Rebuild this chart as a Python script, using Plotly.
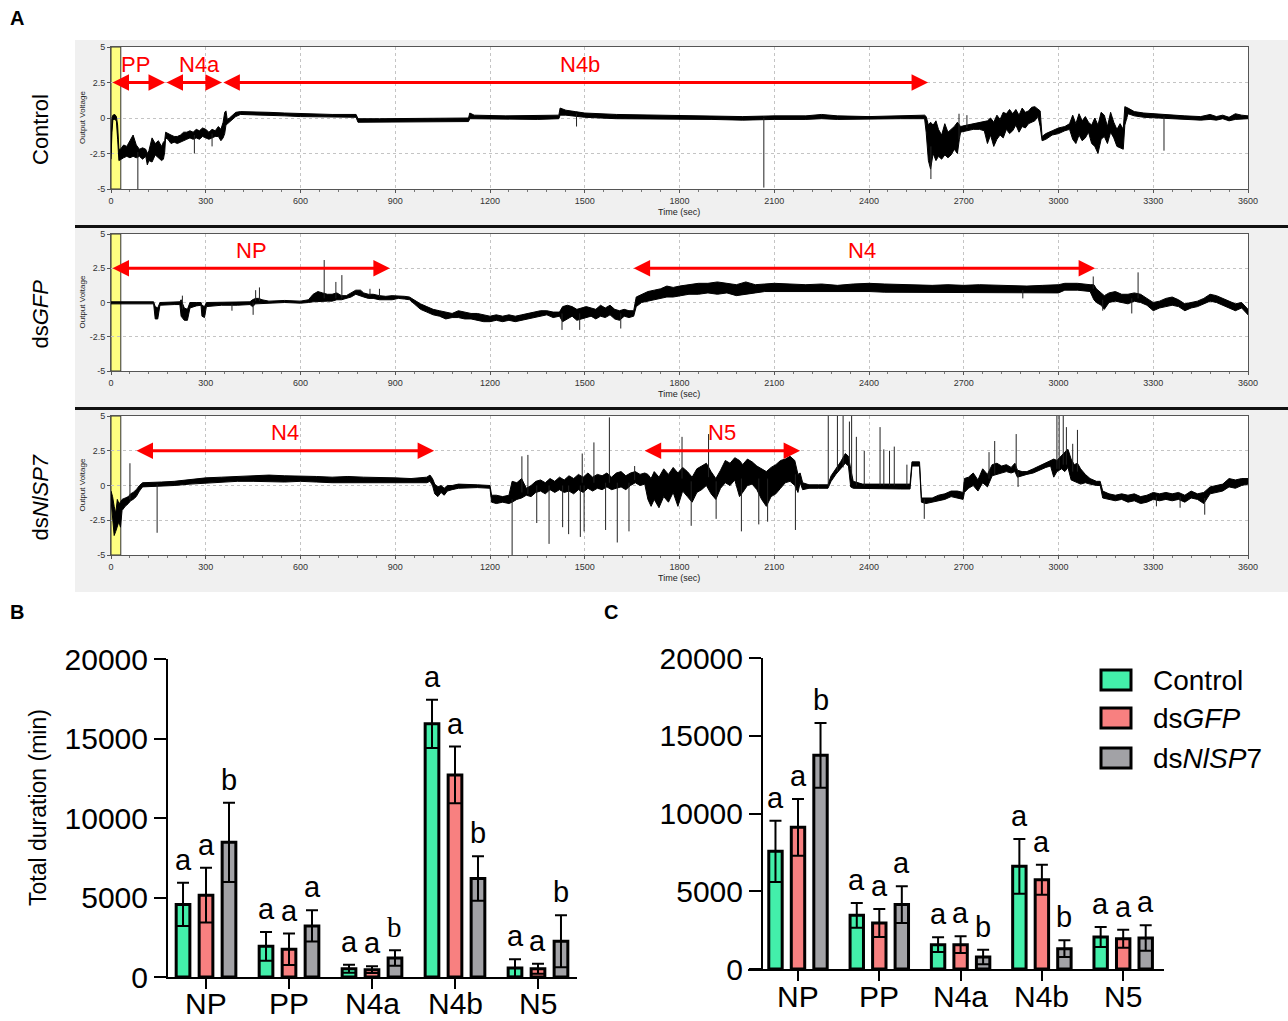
import plotly.graph_objects as go

W, H = 1288, 1021
FONT = "Liberation Sans, Arial, sans-serif"


def X(px):
    return px / W


def Y(py):
    return 1 - py / H


# ---------------- Panel A data (time s, low V, high V envelopes) -------------
ctrl_env = [
    (0, -2.9, -2.5), (3, -1.0, 0.0), (6, -0.1, 0.2), (12, -0.1, 0.25), (17, -0.2, 0.1), (21, -1.5, -0.5), (25, -3.0, -2.2),
    (30, -2.9, -2.2), (40, -2.8, -1.9), (50, -2.7, -2.0), (60, -2.8, -1.6), (70, -2.7, -1.2), (80, -2.8, -1.9), (90, -2.7, -2.2),
    (100, -2.9, -2.1), (110, -2.7, -2.2), (115, -3.3, -2.5), (120, -3.0, -2.3), (130, -3.1, -1.4), (140, -2.6, -1.8),
    (150, -2.8, -1.6), (160, -3.0, -2.0), (166, -2.9, -1.7), (170, -2.4, -1.6),
    (173, -1.4, -1.0), (180, -1.5, -1.1), (190, -1.8, -1.2), (200, -1.7, -1.3), (210, -1.8, -1.3), (220, -1.7, -1.2),
    (230, -1.6, -1.0), (240, -1.5, -1.0), (250, -1.4, -0.9), (260, -1.5, -1.0), (270, -1.4, -0.8), (280, -1.5, -0.9),
    (290, -1.3, -0.7), (300, -1.4, -0.8), (310, -1.5, -1.0), (320, -1.4, -0.8), (330, -1.3, -0.9), (340, -1.3, -0.6),
    (348, -1.6, -0.8), (355, -1.4, -0.3), (360, -1.1, 0.4), (364, -0.5, 0.5), (368, -0.4, -0.1), (375, -0.3, 0.0),
    (385, -0.1, 0.2), (395, 0.1, 0.4), (410, 0.25, 0.45), (450, 0.25, 0.45), (500, 0.2, 0.4), (550, 0.15, 0.35),
    (600, 0.1, 0.3), (650, 0.1, 0.28), (700, 0.05, 0.25), (776, 0.05, 0.25), (782, -0.3, -0.05), (850, -0.3, -0.05),
    (950, -0.3, -0.05), (1050, -0.25, -0.05), (1132, -0.25, 0.0), (1136, -0.05, 0.35), (1150, -0.05, 0.2),
    (1250, -0.1, 0.15), (1350, -0.1, 0.15), (1418, -0.05, 0.2), (1422, 0.2, 0.7), (1440, 0.2, 0.55), (1470, 0.15, 0.45),
    (1500, 0.05, 0.35), (1600, -0.05, 0.25), (1700, -0.1, 0.2), (1800, -0.1, 0.15), (1900, -0.1, 0.12), (2000, -0.15, 0.1),
    (2100, -0.1, 0.15), (2200, -0.1, 0.15), (2250, -0.05, 0.25), (2300, -0.1, 0.15), (2400, -0.1, 0.1), (2500, -0.05, 0.15),
    (2576, -0.05, 0.2),
    (2581, -1.0, 0.1), (2588, -3.0, -0.5), (2595, -3.6, -0.3), (2603, -2.5, -0.5), (2612, -3.0, -0.2), (2620, -2.7, -0.8),
    (2630, -2.9, -1.2), (2640, -2.6, -0.4), (2650, -2.8, -1.0), (2660, -2.6, -0.8), (2670, -2.2, -0.6), (2680, -2.5, -0.3),
    (2686, -1.5, -0.5), (2690, -1.0, -0.6), (2710, -0.9, -0.5), (2730, -0.8, -0.4), (2750, -0.8, -0.3), (2765, -0.9, -0.2),
    (2775, -1.8, -0.2), (2785, -1.2, 0.0), (2795, -2.0, -0.3), (2805, -1.5, 0.2), (2815, -1.2, -0.1), (2825, -1.4, 0.4),
    (2835, -0.8, 0.3), (2845, -1.1, 0.6), (2855, -0.9, 0.3), (2865, -0.5, 0.6), (2875, -1.0, 0.2), (2885, -0.6, 0.7),
    (2895, -0.7, 0.4), (2905, -0.4, 0.5), (2915, -0.3, 0.75), (2925, -0.2, 0.8), (2935, 0.1, 0.6), (2942, -0.6, 0.5),
    (2948, -1.6, -1.3), (2960, -1.5, -1.1), (2980, -1.2, -0.9), (3000, -1.1, -0.7), (3020, -0.9, -0.6), (3035, -0.8, -0.4),
    (3045, -1.5, 0.2), (3055, -1.8, -0.4), (3065, -1.2, 0.3), (3075, -1.6, -0.2), (3085, -1.4, 0.1), (3095, -1.0, -0.3),
    (3105, -1.8, -0.5), (3115, -2.0, 0.0), (3125, -2.5, -0.5), (3135, -1.5, 0.4), (3145, -1.3, 0.2), (3155, -1.8, -0.6),
    (3165, -1.0, 0.4), (3175, -1.4, -0.3), (3185, -2.0, -0.8), (3195, -2.1, -0.4), (3205, -2.2, -0.8),
    (3210, -0.5, 0.8), (3220, 0.3, 0.7), (3240, 0.15, 0.45), (3270, 0.05, 0.35), (3300, 0.0, 0.3), (3350, -0.05, 0.2),
    (3400, -0.1, 0.15), (3450, -0.15, 0.1), (3480, -0.1, 0.25), (3500, -0.15, 0.1), (3520, -0.05, 0.2), (3540, -0.2, 0.05),
    (3560, -0.1, 0.3), (3580, -0.05, 0.2), (3600, -0.05, 0.15),
]
ctrl_spikes = [(85, -2.4, -5.0), (264, -1.2, -2.5), (320, -1.1, -2.0), (2067, 0.0, -4.9), (2596, -2.0, -4.3),
               (3334, 0.1, -2.3), (1474, 0.3, -0.6), (2685, -1.5, 0.3), (2710, -0.7, 0.2)]

gfp_env = [
    (0, -0.1, 0.05), (100, -0.1, 0.05), (135, -0.1, 0.05), (140, -1.2, -0.3), (148, -1.2, -0.4), (155, -0.2, 0.0),
    (200, -0.15, 0.05), (218, -0.15, 0.05), (222, -1.0, 0.2), (232, -1.3, -0.4), (242, -1.3, -0.5), (250, -0.4, 0.0),
    (270, -0.25, 0.0), (285, -0.2, 0.0), (288, -1.0, -0.2), (296, -1.1, -0.3), (302, -0.3, 0.0), (350, -0.2, 0.0),
    (400, -0.2, 0.0), (440, -0.15, 0.05), (448, -0.3, 0.2), (458, -0.1, 0.3), (468, -0.1, 0.3), (478, -0.1, 0.2),
    (500, -0.05, 0.1), (550, 0.0, 0.15), (600, -0.05, 0.1), (625, 0.0, 0.2), (640, 0.05, 0.6), (655, 0.1, 0.8),
    (670, 0.1, 0.7), (685, 0.1, 0.6), (700, 0.1, 0.6), (715, 0.2, 0.7), (730, 0.2, 0.5), (745, 0.3, 0.5), (760, 0.4, 0.7),
    (775, 0.6, 0.9), (790, 0.5, 0.9), (800, 0.4, 0.7), (815, 0.3, 0.6), (830, 0.3, 0.6), (850, 0.2, 0.5), (870, 0.2, 0.45),
    (890, 0.2, 0.5), (910, 0.3, 0.5), (930, 0.25, 0.45), (945, 0.2, 0.4), (960, -0.1, 0.2), (980, -0.5, -0.1),
    (1000, -0.7, -0.3), (1020, -0.9, -0.5), (1040, -1.0, -0.6), (1060, -1.2, -0.7), (1080, -1.1, -0.8), (1100, -1.1, -0.6),
    (1120, -1.2, -0.7), (1140, -1.2, -0.8), (1160, -1.3, -0.8), (1180, -1.4, -0.9), (1200, -1.4, -1.0), (1220, -1.3, -0.9),
    (1240, -1.4, -1.0), (1260, -1.3, -0.9), (1280, -1.4, -1.0), (1300, -1.3, -0.9), (1320, -1.2, -0.8), (1340, -1.1, -0.7),
    (1360, -1.0, -0.6), (1380, -0.9, -0.6), (1400, -1.1, -0.7), (1420, -1.0, -0.7), (1430, -1.4, -0.3), (1445, -1.2, -0.2),
    (1460, -1.0, -0.3), (1475, -1.3, -0.5), (1490, -1.2, -0.4), (1505, -1.1, -0.3), (1520, -1.0, -0.4), (1535, -1.2, -0.5),
    (1550, -1.0, -0.2), (1565, -1.1, -0.4), (1580, -0.9, -0.2), (1595, -1.2, -0.5), (1610, -1.3, -0.6), (1625, -1.0, -0.5),
    (1640, -1.1, -0.6), (1655, -1.0, -0.6), (1663, -0.3, 0.4), (1680, 0.0, 0.6), (1700, 0.1, 0.8), (1720, 0.2, 0.9),
    (1740, 0.3, 1.0), (1760, 0.4, 1.2), (1780, 0.4, 1.1), (1800, 0.5, 1.2), (1830, 0.6, 1.3), (1860, 0.6, 1.4),
    (1890, 0.7, 1.4), (1920, 0.6, 1.5), (1950, 0.7, 1.4), (1980, 0.5, 1.3), (2010, 0.6, 1.5), (2040, 0.7, 1.3),
    (2070, 0.8, 1.35), (2100, 0.8, 1.4), (2150, 0.8, 1.35), (2200, 0.8, 1.3), (2250, 0.8, 1.35), (2300, 0.75, 1.25),
    (2350, 0.8, 1.35), (2400, 0.8, 1.4), (2450, 0.75, 1.35), (2500, 0.75, 1.3), (2550, 0.7, 1.3), (2600, 0.7, 1.25),
    (2650, 0.75, 1.3), (2700, 0.7, 1.25), (2750, 0.7, 1.3), (2800, 0.75, 1.25), (2850, 0.7, 1.2), (2900, 0.7, 1.2),
    (2950, 0.7, 1.25), (3000, 0.7, 1.3), (3020, 0.9, 1.4), (3060, 0.9, 1.4), (3100, 0.8, 1.3), (3112, 0.2, 1.3),
    (3120, 0.0, 1.0), (3135, -0.2, 0.7), (3145, -0.5, 0.5), (3160, 0.0, 0.7), (3180, 0.1, 0.8), (3200, 0.0, 0.6),
    (3220, -0.1, 0.6), (3240, 0.1, 0.7), (3260, 0.0, 0.6), (3280, -0.2, 0.3), (3300, -0.6, 0.0), (3320, -0.4, 0.1),
    (3340, -0.3, 0.3), (3360, -0.2, 0.4), (3380, -0.3, 0.2), (3400, -0.6, -0.1), (3420, -0.4, 0.0), (3440, -0.3, 0.1),
    (3460, -0.1, 0.3), (3480, 0.1, 0.6), (3500, 0.0, 0.5), (3520, -0.2, 0.3), (3540, -0.4, 0.1), (3560, -0.6, -0.1),
    (3580, -0.4, 0.0), (3600, -0.9, -0.5),
]
gfp_spikes = [(675, 0.3, 3.1), (712, 0.3, 1.5), (731, 0.3, 2.0), (2887, 0.9, 0.3), (3110, 1.0, 1.9), (3252, 0.3, 2.2),
              (3232, 0.3, -0.8), (1428, -0.8, -2.0), (1484, -0.8, -2.0), (1614, -0.8, -1.9), (820, 0.5, 1.0),
              (850, 0.4, 1.0), (383, -0.1, -0.6), (450, 0.0, -0.9), (458, 0.1, 0.9), (470, 0.1, 1.1),
              (226, -0.5, 0.5), (3140, 0.2, -0.6)]

nisp_env = [
    (0, -1.0, -0.4), (5, -2.5, -0.8), (10, -3.6, -1.5), (15, -3.3, -2.0), (20, -3.0, -1.0), (25, -2.6, -1.3), (30, -3.0, -1.2),
    (35, -1.8, -1.0), (45, -1.5, -0.9), (55, -1.3, -0.8), (62, -1.1, -0.6), (70, -1.0, -0.5), (80, -0.8, -0.3), (90, -0.4, 0.0),
    (100, -0.1, 0.2), (130, -0.05, 0.25), (160, -0.05, 0.25), (200, 0.0, 0.3), (250, 0.1, 0.45), (300, 0.2, 0.55),
    (350, 0.25, 0.6), (400, 0.3, 0.65), (450, 0.3, 0.7), (500, 0.3, 0.75), (550, 0.25, 0.7), (600, 0.3, 0.7),
    (650, 0.25, 0.65), (700, 0.2, 0.6), (750, 0.2, 0.65), (800, 0.2, 0.6), (850, 0.2, 0.6), (900, 0.15, 0.55),
    (950, 0.2, 0.5), (1000, 0.2, 0.6), (1010, 0.3, 0.75), (1018, 0.0, 0.5), (1025, -0.6, 0.1), (1035, -0.8, -0.1),
    (1045, -0.5, 0.0), (1055, -0.7, -0.2), (1065, -0.4, 0.0), (1080, -0.3, 0.0), (1100, -0.2, 0.1), (1130, -0.15, 0.1),
    (1160, -0.15, 0.05), (1200, -0.2, 0.0), (1205, -1.2, -0.7), (1220, -1.3, -0.7), (1240, -1.2, -0.8), (1260, -1.3, -0.7),
    (1270, -1.2, 0.3), (1285, -1.0, 0.2), (1300, -0.9, 0.5), (1315, -0.7, -0.2), (1330, -0.8, 0.0), (1345, -0.5, 0.3),
    (1360, -0.4, 0.4), (1375, -0.6, 0.2), (1390, -0.3, 0.5), (1405, -0.5, 0.3), (1420, -0.3, 0.6), (1435, -0.5, 0.4),
    (1450, -0.4, 0.7), (1465, -0.6, 0.5), (1480, -0.3, 0.8), (1495, -0.5, 0.6), (1510, -0.2, 0.9), (1525, -0.4, 0.6),
    (1540, -0.2, 0.8), (1555, -0.3, 0.7), (1570, -0.1, 0.9), (1585, -0.3, 0.6), (1600, -0.2, 0.9), (1615, -0.1, 1.0),
    (1630, -0.3, 0.7), (1645, 0.0, 0.9), (1660, 0.2, 1.0), (1675, 0.0, 0.8), (1690, 0.1, 0.9), (1700, -1.0, 0.8),
    (1710, -1.5, 0.5), (1720, -1.0, 1.0), (1735, -1.6, 0.6), (1750, -0.8, 1.2), (1765, -1.2, 0.8), (1780, -0.5, 1.3),
    (1795, -1.5, 0.9), (1810, -0.4, 1.3), (1825, -0.8, 1.0), (1840, -1.2, 0.6), (1855, -0.5, 1.2), (1870, -0.3, 1.4),
    (1885, 0.0, 1.6), (1900, -0.6, 1.0), (1915, -1.0, 0.5), (1930, -0.2, 1.1), (1945, 0.2, 1.8), (1960, 0.0, 1.6),
    (1975, 0.4, 2.0), (1990, -0.8, 1.8), (2000, -0.5, 1.5), (2015, 0.0, 1.9), (2030, 0.1, 1.7), (2045, -0.3, 1.4),
    (2060, -1.0, 1.2), (2075, -1.5, 1.0), (2090, -0.8, 1.3), (2105, -0.6, 1.5), (2120, -0.2, 1.8), (2135, 0.2, 1.9),
    (2150, 0.3, 2.1), (2165, 0.0, 1.8), (2175, -0.5, 0.8), (2182, 0.2, 0.9), (2190, -0.3, 0.2), (2210, -0.2, 0.05),
    (2240, -0.2, 0.05), (2270, -0.2, 0.05), (2280, 0.3, 0.7), (2295, 0.8, 1.2), (2310, 1.2, 1.7), (2325, 1.6, 2.3),
    (2335, 1.4, 2.1), (2342, -0.1, 1.2), (2350, -0.2, 0.3), (2380, -0.2, 0.1), (2420, -0.2, 0.1), (2460, -0.25, 0.05),
    (2500, -0.25, 0.05), (2530, -0.25, 0.1), (2536, 1.4, 1.7), (2560, 1.4, 1.7), (2566, -1.2, -0.9), (2580, -1.3, -0.9),
    (2600, -1.2, -0.9), (2620, -1.1, -0.7), (2640, -1.0, -0.6), (2660, -0.8, -0.4), (2680, -0.9, -0.4), (2698, -1.0, -0.5),
    (2702, -0.5, 0.5), (2715, -0.2, 0.6), (2730, 0.0, 0.9), (2745, -0.4, 0.4), (2760, 0.2, 1.2), (2775, -0.1, 0.8),
    (2790, 0.7, 1.5), (2805, 0.8, 1.6), (2820, 0.9, 1.4), (2835, 1.0, 1.5), (2850, 0.9, 1.3), (2862, 1.0, 1.6),
    (2870, 0.6, 1.1), (2885, 0.7, 1.0), (2900, 0.8, 1.0), (2920, 0.9, 1.2), (2940, 1.1, 1.4), (2960, 1.3, 1.6),
    (2975, 1.4, 1.8), (2985, 0.6, 1.9), (2995, 1.0, 1.8), (3010, 1.2, 2.2), (3020, 1.0, 2.4), (3030, 1.3, 2.6),
    (3040, 0.4, 1.9), (3050, 0.3, 1.5), (3060, 0.2, 1.6), (3070, 0.1, 1.2), (3085, 0.2, 0.8), (3100, 0.1, 0.5),
    (3120, 0.0, 0.3), (3132, 0.0, 0.3), (3140, -0.9, -0.4), (3160, -1.0, -0.6), (3180, -1.1, -0.7), (3200, -1.0, -0.6),
    (3220, -1.2, -0.7), (3240, -1.1, -0.6), (3260, -1.3, -0.8), (3280, -1.2, -0.7), (3300, -1.0, -0.5), (3320, -1.1, -0.6),
    (3340, -1.0, -0.5), (3360, -1.1, -0.6), (3380, -1.0, -0.5), (3400, -1.2, -0.7), (3420, -0.9, -0.4), (3440, -1.0, -0.6),
    (3460, -1.3, -0.5), (3480, -0.6, -0.1), (3500, -0.5, 0.0), (3520, -0.4, 0.1), (3540, -0.1, 0.5), (3560, -0.2, 0.4),
    (3580, 0.0, 0.5), (3600, 0.1, 0.5),
]
nisp_spikes = [(60, -1.0, 1.6), (146, 0.1, -3.4), (1270, -1.0, -5.0), (1301, -0.5, 2.1), (1348, 0.0, -2.7),
               (1387, 0.0, -4.2), (1430, 0.0, -3.0), (1449, 0.0, -3.5), (1486, 0.0, -3.7), (1498, 0.0, -3.3),
               (1492, 0.2, 2.3), (1529, 0.2, 3.1), (1566, 0.2, -3.2), (1578, 0.2, 4.9), (1603, 0.2, -4.1),
               (1640, 0.2, -3.3), (1658, 0.4, 1.4), (1837, 0.3, -2.9), (1808, 0.5, 3.5), (1892, 0.6, 3.7),
               (1916, 0.3, -2.4), (1996, 0.5, -3.3), (2051, 0.5, -2.8), (2079, 0.5, -2.6), (2167, 0.8, -3.2),
               (2271, 0.0, 5.0), (2300, 1.0, 5.0), (2318, 1.3, 5.0), (2345, 0.5, 5.0), (2338, 1.5, 4.6),
               (2360, 0.0, 3.5), (2385, 0.0, 2.5), (2435, 0.0, 4.2), (2447, 0.0, 2.6), (2465, 0.0, 2.5),
               (2480, 0.0, 2.8), (2520, 0.0, 1.5), (2575, -1.0, -2.4), (2780, 0.5, 2.4), (2798, 0.8, 3.2),
               (2866, 1.2, 3.7), (2872, 1.0, -0.1), (2995, 1.2, 5.0), (3002, 1.2, 5.0), (3015, 1.5, 5.0),
               (3025, 1.5, 4.2), (3045, 1.0, 3.0), (3060, 1.0, 4.0), (3463, -0.9, -2.1), (3385, -0.8, -1.6),
               (3310, -0.8, -1.5), (1320, -0.6, 2.2)]

# Phase arrows: (label, start s, end s, label position s)
ctrl_phases = [("PP", 0, 171, 76), ("N4a", 171, 351, 279), ("N4b", 351, 2587, 1485)]
gfp_phases = [("NP", 0, 883, 446), ("N4", 1650, 3116, 2378)]
nisp_phases = [("N4", 76, 1023, 551), ("N5", 1685, 2182, 1935)]

# ---------------- Panels B and C data ----------------
categories = ["NP", "PP", "N4a", "N4b", "N5"]
groups = ["Control", "dsGFP", "dsNlSP7"]
group_labels = ["Control", "ds<i>GFP</i>", "ds<i>NlSP</i>7"]
colors = ["#43EFAA", "#F88080", "#A2A2A6"]

B_control = [4560, 1930, 525, 15920, 567]
B_control_err = [1360, 905, 252, 1510, 546]
B_gfp = [5145, 1745, 462, 12705, 525]
B_gfp_err = [1720, 985, 210, 1785, 315]
B_nisp = [8470, 3215, 1197, 6195, 2247]
B_nisp_err = [2490, 985, 483, 1407, 1638]
B_letters = [["a", "a", "a", "a", "a"], ["a", "a", "a", "a", "a"], ["b", "a", "b", "b", "b"]]

C_control = [7570, 3450, 1565, 6600, 2058]
C_control_err = [1970, 795, 472, 1760, 642]
C_gfp = [9110, 2960, 1565, 5745, 1951]
C_gfp_err = [1825, 900, 535, 965, 579]
C_nisp = [13740, 4140, 772, 1308, 1994]
C_nisp_err = [2080, 1175, 471, 536, 815]
C_letters = [["a", "a", "a", "a", "a"], ["a", "a", "a", "a", "a"], ["b", "a", "b", "b", "a"]]

y_ticks = [0, 5000, 10000, 15000, 20000]

fig = go.Figure()
shapes = []
annotations = []


def text_ann(x, y, text, size, color="black", family=FONT, angle=0, xanchor="center", yanchor="middle",
             xref="paper", yref="paper"):
    return dict(x=x, y=y, xref=xref, yref=yref, text=text, showarrow=False, textangle=angle,
                xanchor=xanchor, yanchor=yanchor, font=dict(size=size, color=color, family=family))


# ---------------- Panel A ----------------
shapes.append(dict(type="rect", xref="paper", yref="paper", x0=X(75), x1=X(1288), y0=Y(592), y1=Y(40),
                   fillcolor="#f0f0f0", line=dict(width=0), layer="below"))

traceA = [("x", "y", ctrl_env, ctrl_spikes, ctrl_phases, 47, 189, "Control"),
          ("x2", "y2", gfp_env, gfp_spikes, gfp_phases, 234, 371, "ds<i>GFP</i>"),
          ("x3", "y3", nisp_env, nisp_spikes, nisp_phases, 416, 555, "ds<i>NlSP7</i>")]

for xa, ya, env, spikes, phases, top, bot, rowlab in traceA:
    shapes.append(dict(type="rect", xref=xa, yref=ya, x0=0, x1=3600, y0=-5, y1=5,
                       fillcolor="white", line=dict(width=0), layer="below"))
    shapes.append(dict(type="rect", xref=xa, yref=ya, x0=0, x1=31, y0=-5, y1=5,
                       fillcolor="#ffff80", line=dict(width=1, color="#333"), layer="below"))
    t = [p[0] for p in env]
    lo = [p[1] for p in env]
    hi = [p[2] for p in env]
    fig.add_trace(go.Scatter(x=t + t[::-1], y=hi + lo[::-1], fill="toself", fillcolor="black",
                             mode="lines", line=dict(color="black", width=1), xaxis=xa, yaxis=ya,
                             showlegend=False, hoverinfo="skip"))
    sx, sy = [], []
    for st, sb, sp in spikes:
        sx += [st, st, None]
        sy += [sb, sp, None]
    fig.add_trace(go.Scatter(x=sx, y=sy, mode="lines", line=dict(color="#222", width=1),
                             xaxis=xa, yaxis=ya, showlegend=False, hoverinfo="skip"))
    for name, t0, t1, tl in phases:
        annotations.append(dict(x=t1, y=2.5, ax=t0, ay=2.5, xref=xa, yref=ya, axref=xa, ayref=ya,
                                text="", showarrow=True, arrowhead=2, arrowside="end+start",
                                arrowsize=1.1, arrowwidth=3, arrowcolor="#ff0000", standoff=0,
                                startstandoff=0))
        annotations.append(text_ann(tl, 3.8, name, 22, color="#ff0000", xref=xa, yref=ya))
    mid = (top + bot) / 2
    annotations.append(text_ann(X(40), Y(mid + 12), rowlab, 22, angle=-90))
    annotations.append(text_ann(X(82), Y(mid), "Output Voltage", 8, color="#222", angle=-90))
    annotations.append(text_ann(X(679), Y(bot + 23), "Time (sec)", 9, color="#222"))

shapes.append(dict(type="line", xref="paper", yref="paper", x0=X(75), x1=X(1288), y0=Y(226.5), y1=Y(226.5),
                   line=dict(color="#111", width=3)))
shapes.append(dict(type="line", xref="paper", yref="paper", x0=X(75), x1=X(1288), y0=Y(408.5), y1=Y(408.5),
                   line=dict(color="#111", width=3)))

axA_x = dict(range=[0, 3600], tickvals=list(range(0, 3601, 300)), showgrid=True, gridcolor="#c4c4c4",
             griddash="dot", gridwidth=1, zeroline=False, showline=True, mirror=True, linecolor="#555",
             linewidth=1, ticks="outside", ticklen=3, tickcolor="#555", automargin=False,
             tickfont=dict(size=9, color="#333", family=FONT),
             minor=dict(dtick=60, ticks="outside", ticklen=2, tickcolor="#777"))
axA_y = dict(range=[-5, 5], tickvals=[-5, -2.5, 0, 2.5, 5], ticktext=["-5", "-2.5", "0", "2.5", "5"],
             showgrid=True, gridcolor="#c4c4c4", griddash="dot", gridwidth=1, zeroline=False, showline=True,
             mirror=True, linecolor="#555", linewidth=1, ticks="outside", ticklen=3, tickcolor="#555",
             automargin=False, tickfont=dict(size=9, color="#333", family=FONT))

layout_axes = {}
for i, (top, bot) in enumerate([(47, 189), (234, 371), (416, 555)]):
    sfx = "" if i == 0 else str(i + 1)
    layout_axes["xaxis" + sfx] = dict(axA_x, domain=[X(111), X(1248)], anchor="y" + sfx)
    layout_axes["yaxis" + sfx] = dict(axA_y, domain=[Y(bot), Y(top)], anchor="x" + sfx)

# ---------------- Panels B and C ----------------
offsets = [-0.277, 0.0, 0.277]
bar_w = 0.165


def bar_panel(xa, ya, series, errs, letters, serif_cells, label_py):
    for k in range(3):
        xs = [i + offsets[k] for i in range(len(categories))]
        fig.add_trace(go.Bar(x=xs, y=series[k], width=bar_w, marker=dict(color=colors[k],
                             line=dict(color="black", width=3)),
                             error_y=dict(type="data", array=errs[k], symmetric=True, color="black",
                                          thickness=2, width=6),
                             xaxis=xa, yaxis=ya, showlegend=False, cliponaxis=False, hoverinfo="skip"))
        for i in range(len(categories)):
            fam = "Liberation Serif, Times New Roman, serif" if (k, i) in serif_cells else FONT
            annotations.append(dict(x=xs[i], y=series[k][i] + errs[k][i], xref=xa, yref=ya,
                                    text=letters[k][i], showarrow=False, xanchor="center", yanchor="bottom",
                                    yshift=5, font=dict(size=29, color="black", family=fam)))
    for i, c in enumerate(categories):
        annotations.append(text_ann(i, Y(label_py), c, 30, xref=xa, yref="paper"))


bar_panel("x4", "y4", [B_control, B_gfp, B_nisp], [B_control_err, B_gfp_err, B_nisp_err], B_letters,
          {(2, 2)}, 1003)
bar_panel("x5", "y5", [C_control, C_gfp, C_nisp], [C_control_err, C_gfp_err, C_nisp_err], C_letters,
          set(), 996)

bar_x = dict(tickvals=list(range(len(categories))), ticktext=[""] * len(categories), ticks="outside",
             ticklen=10, tickwidth=2, tickcolor="black", showline=True, linecolor="black", linewidth=2,
             showgrid=False, zeroline=False, automargin=False, tickfont=dict(size=30, color="black", family=FONT))
bar_y = dict(range=[0, 20000], tickvals=y_ticks, ticktext=[str(v) for v in y_ticks], ticks="outside",
             ticklen=12, tickwidth=2, tickcolor="black", showline=True, linecolor="black", linewidth=2,
             showgrid=False, zeroline=False, automargin=False, tickfont=dict(size=30, color="black", family=FONT))

layout_axes["xaxis4"] = dict(bar_x, domain=[X(168), X(577)], range=[-0.458, 4.47], anchor="y4")
layout_axes["yaxis4"] = dict(bar_y, domain=[Y(977), Y(659)], anchor="x4")
layout_axes["xaxis5"] = dict(bar_x, domain=[X(748), X(1164)], range=[-0.615, 4.502], anchor="y5")
layout_axes["yaxis5"] = dict(bar_y, domain=[Y(969), Y(658)], anchor="free", position=X(762))

annotations.append(text_ann(X(38), Y(808), "Total duration (min)", 23, angle=-90))

# legend drawn manually
for k, yc in enumerate([680, 718, 758]):
    shapes.append(dict(type="rect", xref="paper", yref="paper", x0=X(1101), x1=X(1131), y0=Y(yc + 10),
                       y1=Y(yc - 10), fillcolor=colors[k], line=dict(color="black", width=3)))
    annotations.append(text_ann(X(1151), Y(yc), group_labels[k], 28, xanchor="left"))

# panel letters
for lab, px, py in [("A", 17, 18), ("B", 17, 612), ("C", 611, 612)]:
    annotations.append(text_ann(X(px), Y(py), "<b>%s</b>" % lab, 20))

fig.update_layout(width=W, height=H, margin=dict(l=0, r=0, t=0, b=0, autoexpand=False), paper_bgcolor="white",
                  plot_bgcolor="rgba(0,0,0,0)", barmode="overlay", shapes=shapes, annotations=annotations,
                  showlegend=False, **layout_axes)

fig.write_html("out.html", config={"displayModeBar": False},
               post_script="document.body.style.margin='0px';document.body.style.overflow='hidden';")
